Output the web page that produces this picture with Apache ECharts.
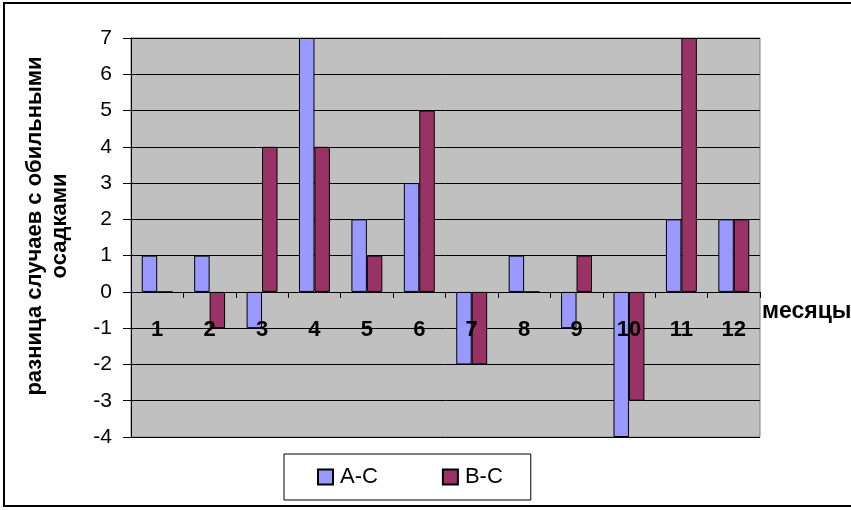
<!DOCTYPE html>
<html>
<head>
<meta charset="utf-8">
<script src="https://cdn.jsdelivr.net/npm/echarts@6/dist/echarts.min.js"></script>
<style>
html,body{margin:0;padding:0;background:#fff;}
#c{width:851px;height:510px;}
</style>
</head>
<body>
<div id="c"></div>
<script>
var months = ['1','2','3','4','5','6','7','8','9','10','11','12'];
var seriesNames = ['A-C','B-C'];
var valuesAC = [1, 1, -1, 7, 2, 3, -2, 1, -1, -4, 2, 2];
var valuesBC = [0, -1, 4, 4, 1, 5, -2, 0, 1, -3, 7, 2];
var yTicks = {min: -4, max: 7, interval: 1};
var yTitle = 'разница случаев с обильными\nосадками';
var xTitle = 'месяцы';

var FONT = '"Liberation Sans", Arial, sans-serif';
var chart = echarts.init(document.getElementById('c'), null, {renderer: 'canvas'});
chart.setOption({
  animation: false,
  backgroundColor: '#fff',
  grid: {left: 131, top: 38, width: 629, height: 399, show: true,
         backgroundColor: '#C0C0C0', borderColor: '#808080', borderWidth: 1, containLabel: false},
  legend: {
    left: 284, top: 454, orient: 'horizontal',
    padding: [12, 28, 12, 33], itemGap: 64,
    itemWidth: 15, itemHeight: 15,
    backgroundColor: '#fff', borderColor: '#000', borderWidth: 1, borderRadius: 0,
    icon: 'rect',
    textStyle: {fontFamily: FONT, fontSize: 22, color: '#000', padding: [0,0,0,2]},
    data: seriesNames
  },
  xAxis: {
    type: 'category', data: months, boundaryGap: true, z: 10,
    axisLine: {onZero: true, lineStyle: {color: '#000', width: 1}},
    axisTick: {show: true, inside: false, length: 6, alignWithLabel: false, lineStyle: {color: '#000'}},
    axisLabel: {fontFamily: FONT, fontSize: 22, fontWeight: 'bold', color: '#000', margin: -118, interval: 0},
    splitLine: {show: false}
  },
  yAxis: {
    type: 'value', min: yTicks.min, max: yTicks.max, interval: yTicks.interval,
    axisLine: {show: true, lineStyle: {color: '#000', width: 1}},
    axisTick: {show: true, inside: false, length: 8, lineStyle: {color: '#000'}},
    axisLabel: {fontFamily: FONT, fontSize: 21, color: '#000', margin: 19},
    splitLine: {show: true, lineStyle: {color: '#000', width: 1}}
  },
  series: [
    {name: seriesNames[0], type: 'bar', data: valuesAC, barGap: '0%', barCategoryGap: '41%',
     itemStyle: {color: '#9999FF', borderColor: '#000', borderWidth: 1}},
    {name: seriesNames[1], type: 'bar', data: valuesBC, barGap: '0%', barCategoryGap: '41%',
     itemStyle: {color: '#993366', borderColor: '#000', borderWidth: 1}}
  ],
  graphic: [
    {type: 'rect', shape: {x: 4, y: 3, width: 900, height: 503}, z: -10, silent: true,
     style: {fill: 'none', stroke: '#000', lineWidth: 2}},
    {type: 'text', x: 47, y: 226, rotation: Math.PI / 2, z: 10,
     style: {text: yTitle, fontFamily: FONT, fontSize: 22, fontWeight: 'bold', fill: '#000',
             align: 'center', verticalAlign: 'middle', lineHeight: 25}},
    {type: 'text', x: 762, y: 312, z: 10,
     style: {text: xTitle, fontFamily: FONT, fontSize: 23, fontWeight: 'bold', fill: '#000',
             align: 'left', verticalAlign: 'middle'}}
  ]
});
</script>
</body>
</html>
